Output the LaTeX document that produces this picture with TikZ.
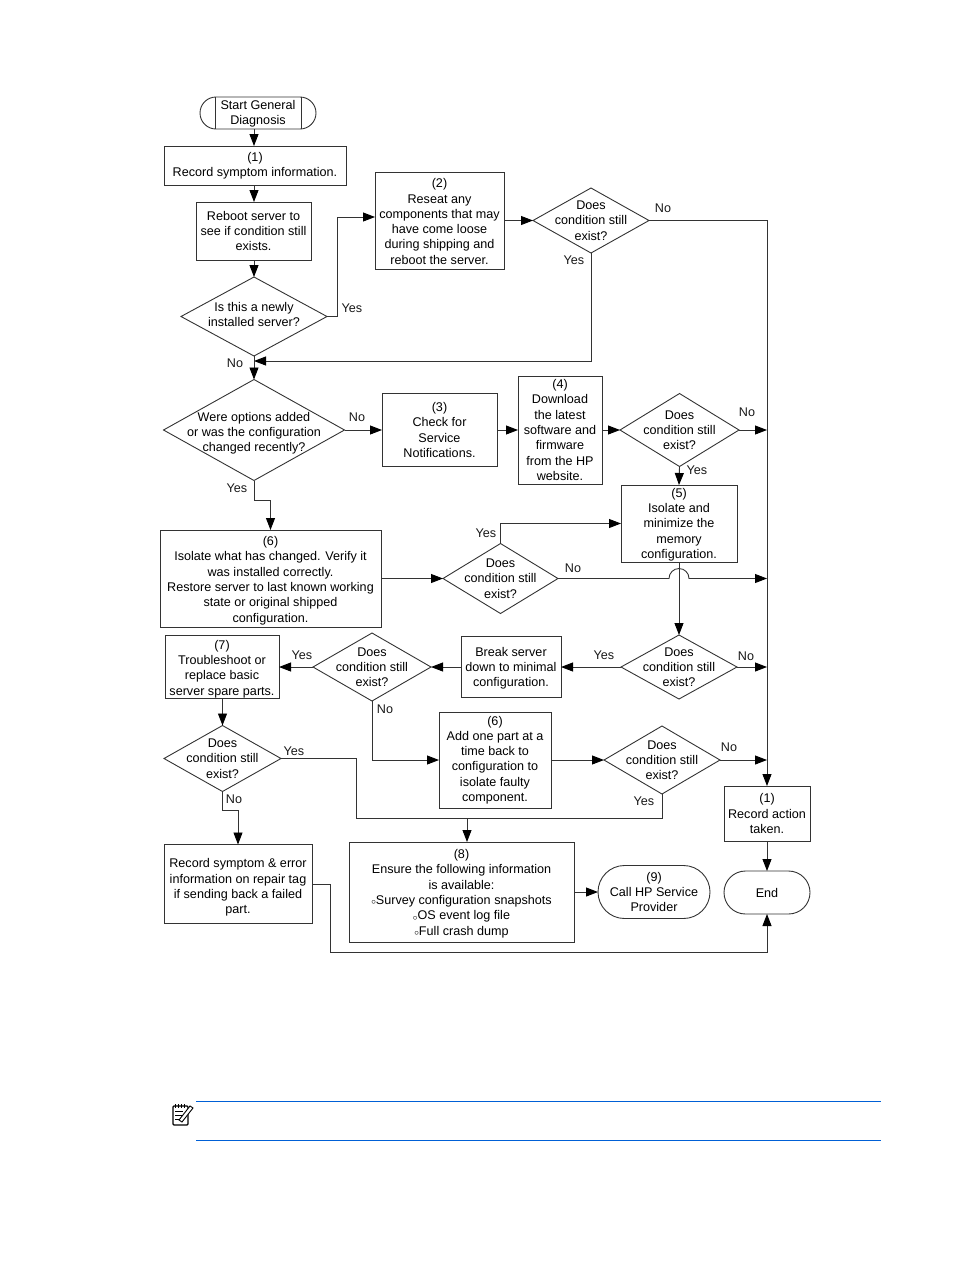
\documentclass[tikz,border=0pt]{standalone}
\usepackage{fontspec}
\setmainfont{Liberation Sans}
\usetikzlibrary{arrows.meta, shapes.geometric, shapes.misc, calc}
\newcommand{\dtext}[2][-4.4pt]{\raisebox{#1}[0pt][0pt]{\makebox[0pt]{\begin{tabular}{@{}c@{}}#2\end{tabular}}}}
\newcommand{\low}[1]{\rule{0pt}{#1}}
\newcommand{\hole}{\raisebox{-0.5pt}{$\scriptstyle\circ$}}
\definecolor{ruleblue}{RGB}{0,96,214}

\begin{document}
\begin{tikzpicture}[
		x=1pt, y=-1pt,
		font=\fontsize{12.6}{15.3}\selectfont,
		every node/.style={inner sep=0pt, outer sep=0pt, align=center},
		box/.style 2 args={rectangle, draw=black!80, line width=0.9pt, minimum width=#1, minimum height=#2},
		decide/.style 2 args={diamond, draw=black!80, line width=0.9pt, minimum width=#1, minimum height=#2},
		term/.style 2 args={rounded rectangle, draw=black!80, line width=0.9pt, minimum width=#1, minimum height=#2},
		plain/.style={draw=black!80, line width=0.9pt},
		link/.style={plain, -{Triangle[length=12pt,width=9pt,color=black]}},
		tag/.style={text=black!90},
		]

	\useasboundingbox (0,0) rectangle (954,1270);

	\node (start) [term={116pt}{32pt}] at (258,113) {\low{11.2pt}Start General\\Diagnosis};
	\draw[plain] ([xshift=-43pt]start.north) -- ([xshift=-43pt]start.south);
	\draw[plain] ([xshift=43pt]start.north) -- ([xshift=43pt]start.south);

	\node (rec1) [box={182pt}{39pt}] at (255,165.5) {(1)\\Record symptom information.};
	\node (reboot) [box={115pt}{58pt}] at (253.5,231) {Reboot server to\\see if condition still\\exists.};
	\node (dnew) [decide={146pt}{79pt}] at (254,316.5) {\dtext[-2.4pt]{Is this a newly\\installed server?}};
	\node (box2) [box={129pt}{97pt}] at (439.5,220.5) {\low{11.2pt}(2)\\Reseat any\\components that may\\have come loose\\during shipping and\\reboot the server.};
	\node (d2) [decide={116pt}{65pt}] at (591,220.5) {\dtext{Does\\condition still\\exist?}};
	\node (dopt) [decide={181pt}{101pt}] at (254,430) {\dtext[-6.4pt]{Were options added\\or was the configuration\\changed recently?}};
	\node (box3) [box={115pt}{73pt}] at (439.5,430) {(3)\\Check for\\Service\\Notifications.};
	\node (box4) [box={84pt}{108pt}] at (560,430) {(4)\\Download\\the latest\\software and\\firmware\\from the HP\\website.};
	\node (d4) [decide={119pt}{73pt}] at (679.5,430) {\dtext{Does\\condition still\\exist?}};
	\node (box5) [box={116pt}{77pt}] at (679,523.5) {\low{11.2pt}(5)\\Isolate and\\minimize the\\memory\\configuration.};
	\node (box6a) [box={221pt}{97pt}] at (270.5,578.5) {\low{13.2pt}(6)\\Isolate what has changed. Verify it\\was installed correctly.\\Restore server to last known working\\state or original shipped\\configuration.};
	\node (d6) [decide={115pt}{70pt}] at (500.5,578.5) {\dtext{Does\\condition still\\exist?}};
	\node (d5) [decide={116pt}{64pt}] at (679,667) {\dtext{Does\\condition still\\exist?}};
	\node (brk) [box={100pt}{61pt}] at (511,667) {\low{11.2pt}Break server\\down to minimal\\configuration.};
	\node (d7) [decide={118pt}{68pt}] at (372,667) {\dtext{Does\\condition still\\exist?}};
	\node (box7) [box={114pt}{63pt}] at (222,667) {\low{13.2pt}(7)\\Troubleshoot or\\replace basic\\server spare parts.};
	\node (d8) [decide={117pt}{66pt}] at (222.5,758.5) {\dtext{Does\\condition still\\exist?}};
	\node (addp) [box={112pt}{96pt}] at (495,760) {(6)\\Add one part at a\\time back to\\configuration to\\isolate faulty\\component.};
	\node (d9) [decide={116pt}{68pt}] at (662,760) {\dtext{Does\\condition still\\exist?}};
	\node (rec2) [box={86pt}{55pt}] at (767,813.5) {(1)\\Record action\\taken.};
	\node (endbox) [term={86pt}{43pt}] at (767,892.5) {End};
	\node (rsym) [box={148pt}{79pt}] at (238,884) {\low{16.2pt}Record symptom \& error\\information on repair tag\\if sending back a failed\\part.};
	\node (box8) [box={225pt}{100pt}] at (461.5,892) {\low{12.2pt}(8)\\Ensure the following information\\is available:\\\hole Survey configuration snapshots\\\hole OS event log file\\\hole Full crash dump};
	\node (call9) [term={112pt}{53pt}] at (654,892) {(9)\\Call HP Service\\Provider};

	\coordinate (upnew) at (337,316.5);
	\coordinate (elbow) at (356,818);
	\coordinate (merge) at (467,818);
	\coordinate (retx) at (330,952);
	\coordinate (jumpa) at ($(d6.east -| box5.south)+(-10,0)$);

	\draw[link] (start.south -| dnew.north) -- (rec1.north -| dnew.north);
	\draw[link] (rec1.south -| dnew.north) -- (reboot.north -| dnew.north);
	\draw[link] (reboot.south -| dnew.north) -- (dnew.north);
	\draw[link] (dnew.east) -- (upnew) |- ([yshift=3.5pt]box2.west);
	\draw[link] (box2) -- (d2);
	\draw[link] (d2.south) |- ($(dnew.south)+(0,5)$);
	\draw[link] (dnew.south) -- (dopt.north);
	\draw[link] (dopt) -- (box3);
	\draw[link] (box3) -- (box4);
	\draw[link] (box4) -- (d4);
	\draw[link] (d4.south) -- (box5.north);
	\draw[link] (d2.east) -| (rec2.north);
	\draw[link] (d4.east) -- (d4.east -| rec2.north);
	\draw[link] (dopt.south) -- ++(0,20) -| (box6a.north);
	\draw[link] (box6a) -- (d6);
	\draw[link] (d6.north) |- (box5.west);
	\draw[link] (d6.east) -- (jumpa) arc[start angle=180, end angle=0, radius=10pt] -- (d6.east -| rec2.north);
	\draw[link] (box5.south) -- (d5.north);
	\draw[link] (d5.east) -- (d5.east -| rec2.north);
	\draw[link] (d5) -- (brk);
	\draw[link] (brk) -- (d7);
	\draw[link] (d7) -- (box7);
	\draw[link] (d7.south) |- (addp.west);
	\draw[link] (addp) -- (d9);
	\draw[link] (d9.east) -- (d9.east -| rec2.north);
	\draw[link] (box7.south -| d8.north) -- (d8.north);
	\draw[plain] (d8.east) -| (elbow) -- (merge);
	\draw[plain] (d9.south) |- (merge);
	\draw[link] (merge) -- (merge |- box8.north);
	\draw[link] (d8.south) -- ++(0,19) -| (rsym.north);
	\draw[link] (rsym.east) -| (retx) -| (endbox.south);
	\draw[link] (box8.east |- call9.west) -- (call9.west);
	\draw[link] (rec2.south) -- (endbox.north);

	\node (yes1) [tag] at (352,308) {Yes};
	\node (no1) [tag] at (235,363) {No};
	\node (no2) [tag] at (663,208) {No};
	\node (yes2) [tag] at (574,260) {Yes};
	\node (no3) [tag] at (357,417) {No};
	\node (yes3) [tag] at (237,488) {Yes};
	\node (no4) [tag] at (747,412) {No};
	\node (yes4) [tag] at (697,470) {Yes};
	\node (yes5) [tag] at (486,533) {Yes};
	\node (no5) [tag] at (573,568) {No};
	\node (yes6) [tag] at (604,655) {Yes};
	\node (no6) [tag] at (746,656) {No};
	\node (yes7) [tag] at (302,655) {Yes};
	\node (no7) [tag] at (385,709) {No};
	\node (yes8) [tag] at (294,751) {Yes};
	\node (no8) [tag] at (234,799) {No};
	\node (yes9) [tag] at (644,801) {Yes};
	\node (no9) [tag] at (729,747) {No};

	% note icon and rules
	\draw[ruleblue, line width=0.9pt] (196,1101.3) -- (881,1101.3);
	\draw[ruleblue, line width=0.9pt] (196,1140.3) -- (881,1140.3);
	\draw[black, line width=1.1pt, rounded corners=1pt] (173,1106) rectangle (188,1125);
	\foreach \xn in {175,178,181,184}
		\draw[black, line width=0.8pt] (\xn,1104) -- (\xn,1108);
	\foreach \yn in {1111,1115}
		\draw[black, line width=0.8pt] (175,\yn) -- (183,\yn);
	\draw[black, line width=0.8pt] (175,1119) -- (179,1119);
	\draw[black, fill=white, line width=0.9pt] (179,1120) -- (190,1106) -- (193,1108) -- (182,1122) -- cycle;
\end{tikzpicture}
\end{document}
